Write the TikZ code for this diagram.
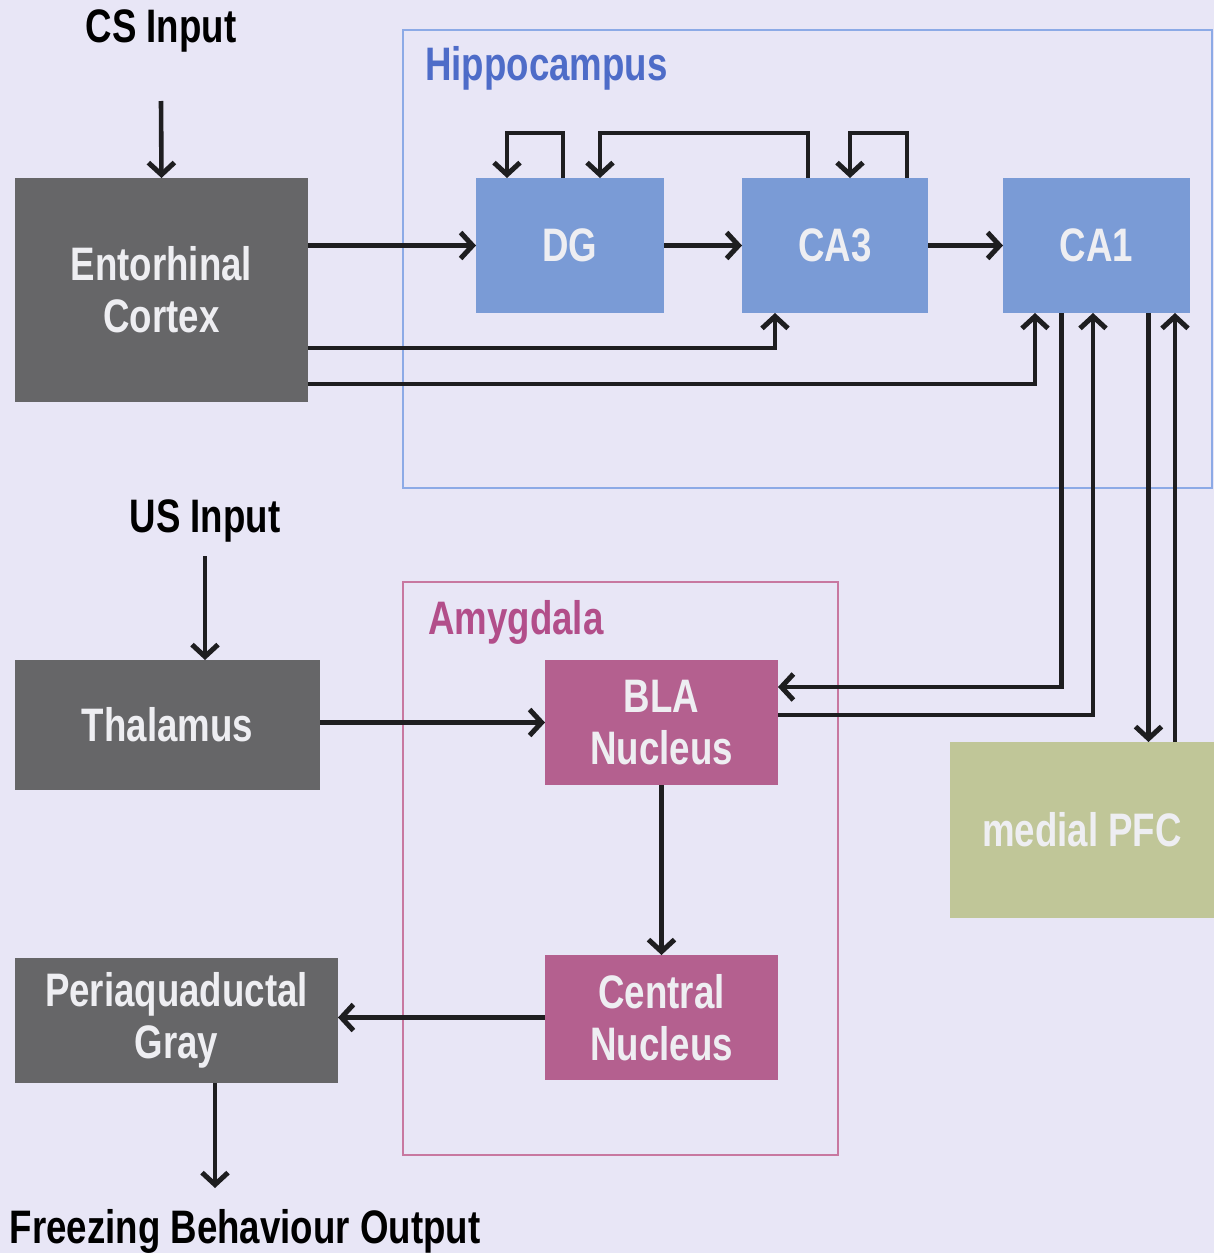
\documentclass[tikz,border=0pt]{standalone}
\usepackage{fontspec}
\usetikzlibrary{arrows.meta,calc}
\newfontfamily\lblfont[FakeStretch=0.78]{Liberation Sans}
\definecolor{bgc}{RGB}{232,230,246}
\definecolor{grayb}{RGB}{102,102,104}
\definecolor{blueb}{RGB}{122,155,214}
\definecolor{magb}{RGB}{180,96,143}
\definecolor{pfcb}{RGB}{192,198,152}
\definecolor{hipline}{RGB}{140,170,230}
\definecolor{hiptext}{RGB}{78,108,200}
\definecolor{amyline}{RGB}{200,120,160}
\definecolor{amytext}{RGB}{178,78,138}
\definecolor{linec}{RGB}{30,30,32}
\definecolor{boxtext}{RGB}{238,238,242}
\tikzset{
  lbl/.style={font=\lblfont\bfseries\fontsize{47}{52}\selectfont, inner sep=0pt},
  box/.style={lbl, text=boxtext, align=center, inner sep=0pt, outer sep=0pt},
  arr/.style={draw=linec, line width=4.6pt, -{Straight Barb[length=12pt,width=26pt,line width=5pt]}},
  ln/.style={draw=linec, line width=4.6pt}
}
\begin{document}
\begin{tikzpicture}[x=1pt,y=-1pt]
\fill[bgc] (0,0) rectangle (1214,1253);
\useasboundingbox (0,0) rectangle (1214,1253);
% frames
\draw[hipline, line width=1.2pt] (403,30) rectangle (1212,488);
\draw[amyline, line width=1.2pt] (403,582) rectangle (838,1155);
\node[lbl, text=hiptext, anchor=west] (hiplab) at (425,68) {Hippocampus};
\node[lbl, text=amytext, anchor=west] (amylab) at (428,622) {Amygdala};
% boxes
\node[box, fill=grayb, minimum width=293pt, minimum height=224pt] (ec) at (161.5,290) {Entorhinal\\Cortex};
\node[box, fill=blueb, minimum width=188pt, minimum height=135pt] (dg) at (570,245.5) {DG};
\node[box, fill=blueb, minimum width=186pt, minimum height=135pt] (ca3) at (835,245.5) {CA3};
\node[box, fill=blueb, minimum width=187pt, minimum height=135pt] (ca1) at (1096.5,245.5) {CA1};
\node[box, fill=grayb, minimum width=305pt, minimum height=130pt] (thal) at (167.5,725) {Thalamus};
\node[box, fill=magb, minimum width=233pt, minimum height=125pt] (bla) at (661.5,722.5) {BLA\\Nucleus};
\node[box, fill=magb, minimum width=233pt, minimum height=125pt] (cen) at (661.5,1017.5) {Central\\Nucleus};
\node[box, fill=grayb, minimum width=323pt, minimum height=125pt] (pag) at (176.5,1020.5) {Periaquaductal\\Gray};
\node[box, fill=pfcb, minimum width=264pt, minimum height=176pt] (pfc) at (1082,830) {medial PFC};
% texts
\node[lbl, text=black] (cs) at (161,31) {CS Input};
\node[lbl, text=black] (us) at (205,521) {US Input};
\node[lbl, text=black] (out) at (245,1231) {Freezing Behaviour Output};
\coordinate (outarr) at (215,1188);
% connectors
\draw[arr] ([yshift=-70pt]cs.center) -- (ec.north);
\draw[arr] (dg.west -| ec.east) -- (dg.west);
\draw[arr] (dg.east) -- (ca3.west);
\draw[arr] (ca3.east) -- (ca1.west);
\draw[arr] ([yshift=-58pt]ec.east) -| ([xshift=-60pt]ca3.south);
\draw[arr] ([yshift=-94pt]ec.east) -| ([xshift=-61.5pt]ca1.south);
\draw[arr] ([xshift=-7pt]dg.north) -- ++(0,-45) -| ([xshift=-63pt]dg.north);
\draw[arr] ([xshift=-27pt]ca3.north) -- ++(0,-45) -| ([xshift=30pt]dg.north);
\draw[arr] ([xshift=72pt]ca3.north) -- ++(0,-45) -| ([xshift=15pt]ca3.north);
\draw[arr] ([xshift=-35pt]ca1.south) |- ([yshift=35.5pt]bla.east);
\draw[arr] ([yshift=7.5pt]bla.east) -| ([xshift=-3.5pt]ca1.south);
\draw[arr] ([xshift=52pt]ca1.south) -- ([xshift=52pt]ca1.south |- pfc.north);
\draw[arr] ([xshift=93pt]pfc.north) -- ([xshift=93pt]pfc.north |- ca1.south);
\draw[arr] ([yshift=-35pt]us.center) -- (us.center |- thal.north);
\draw[arr] (bla.west -| thal.east) -- (bla.west);
\draw[arr] (bla.south) -- (cen.north);
\draw[arr] (cen.west) -- (cen.west -| pag.east);
\draw[arr] (pag.south -| outarr) -- (outarr);
\end{tikzpicture}
\end{document}
